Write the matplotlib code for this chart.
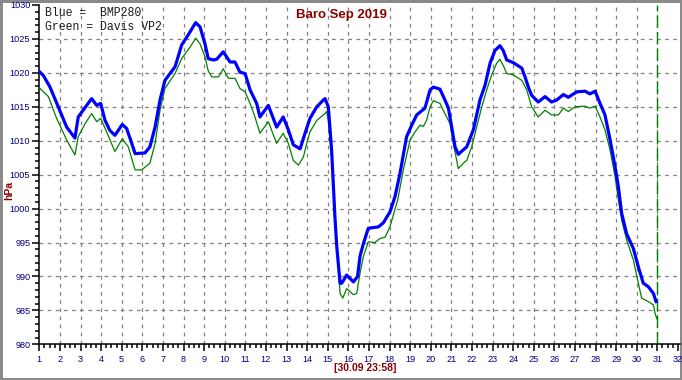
import matplotlib
matplotlib.use('Agg')
import matplotlib.pyplot as plt
from matplotlib.ticker import MultipleLocator

# ---- data (day of month, hPa) ----
blue_days = [1.00, 1.20, 1.52, 1.92, 2.33, 2.73, 2.89, 3.20, 3.54, 3.79, 3.98, 4.19, 4.43, 4.67,
             5.03, 5.24, 5.49, 5.65, 6.13, 6.37, 6.62, 6.86, 7.10, 7.59, 7.91, 8.23, 8.59, 8.80,
             9.04, 9.20, 9.45, 9.61, 9.93, 10.26, 10.50, 10.74, 10.99, 11.23, 11.55, 11.71, 12.12,
             12.52, 12.84, 13.09, 13.33, 13.66, 13.90, 14.14, 14.47, 14.79, 14.87, 15.03, 15.19,
             15.27, 15.35, 15.44, 15.60, 15.68, 15.92, 16.25, 16.45, 16.57, 16.73, 16.97, 17.46,
             17.70, 18.02, 18.27, 18.51, 18.83, 19.08, 19.32, 19.56, 19.72, 19.97, 20.13, 20.45,
             20.69, 20.86, 21.02, 21.18, 21.34, 21.75, 22.07, 22.39, 22.64, 22.88, 23.12, 23.36,
             23.52, 23.69, 24.01, 24.42, 24.58, 24.74, 24.90, 25.22, 25.55, 25.87, 26.12, 26.44,
             26.68, 27.09, 27.49, 27.73, 27.98, 28.22, 28.46, 28.71, 28.95, 29.11, 29.27, 29.51,
             29.84, 30.08, 30.32, 30.56, 30.81, 30.94]
blue_hpa = [1020.2, 1019.6, 1017.9, 1015.0, 1012.0, 1010.4, 1013.5, 1014.8, 1016.2, 1015.2, 1015.5,
            1013.0, 1011.5, 1010.8, 1012.4, 1011.8, 1009.6, 1008.1, 1008.2, 1009.1, 1012.0, 1016.0,
            1018.9, 1020.9, 1024.1, 1025.6, 1027.4, 1026.8, 1024.3, 1022.1, 1021.9, 1022.0, 1023.1,
            1021.6, 1021.6, 1020.1, 1019.9, 1017.5, 1015.5, 1013.5, 1015.2, 1012.0, 1013.5, 1011.6,
            1009.4, 1008.8, 1011.1, 1013.3, 1015.0, 1016.0, 1016.2, 1015.0, 1008.6, 1003.7, 998.8,
            994.4, 989.0, 989.0, 990.2, 989.2, 990.0, 993.0, 994.8, 997.1, 997.3, 997.9, 999.5,
            1001.8, 1005.2, 1010.6, 1012.3, 1013.8, 1014.4, 1014.8, 1017.5, 1017.9, 1017.6, 1016.0,
            1014.8, 1012.0, 1009.1, 1008.0, 1009.1, 1011.6, 1016.0, 1018.2, 1021.4, 1023.3, 1024.0,
            1023.3, 1021.9, 1021.5, 1020.7, 1019.4, 1017.9, 1016.7, 1015.7, 1016.5, 1015.7, 1016.0,
            1016.8, 1016.4, 1017.2, 1017.3, 1016.9, 1017.3, 1015.5, 1013.8, 1010.1, 1006.2, 1003.2,
            999.3, 996.3, 994.1, 991.4, 989.0, 988.5, 987.5, 986.3]

green_days = [1.00, 1.44, 1.84, 2.33, 2.73, 2.89, 3.22, 3.54, 3.79, 3.98, 4.27, 4.67, 5.03, 5.32,
              5.65, 5.97, 6.37, 6.62, 6.86, 7.10, 7.59, 7.91, 8.32, 8.59, 8.80, 9.04, 9.20, 9.37,
              9.70, 9.93, 10.18, 10.50, 10.74, 10.99, 11.23, 11.47, 11.71, 12.12, 12.52, 12.84,
              13.09, 13.33, 13.58, 13.82, 13.98, 14.14, 14.47, 14.87, 14.95, 15.03, 15.16, 15.27,
              15.35, 15.44, 15.52, 15.60, 15.73, 15.92, 16.25, 16.41, 16.57, 16.73, 16.97, 17.29,
              17.54, 17.79, 18.02, 18.40, 18.67, 19.00, 19.24, 19.48, 19.64, 19.80, 19.97, 20.13,
              20.45, 20.69, 20.94, 21.10, 21.34, 21.59, 21.75, 21.99, 22.23, 22.48, 22.72, 22.96,
              23.20, 23.36, 23.52, 23.69, 24.01, 24.42, 24.66, 24.90, 25.22, 25.55, 25.87, 26.20,
              26.44, 26.68, 27.01, 27.49, 27.73, 27.98, 28.22, 28.46, 28.71, 28.95, 29.11, 29.27,
              29.51, 29.84, 30.08, 30.24, 30.56, 30.81, 30.89, 30.97]
green_hpa = [1017.8, 1016.5, 1013.3, 1010.1, 1007.9, 1010.6, 1012.5, 1014.0, 1012.8, 1013.3, 1011.3,
             1008.4, 1010.3, 1009.1, 1005.7, 1005.7, 1006.7, 1009.6, 1014.5, 1017.7, 1019.9, 1022.1,
             1023.8, 1025.1, 1024.3, 1022.4, 1020.3, 1019.4, 1019.4, 1020.6, 1019.2, 1019.2, 1017.7,
             1017.2, 1015.5, 1013.5, 1011.1, 1012.8, 1009.6, 1011.1, 1009.6, 1007.1, 1006.4, 1007.6,
             1009.6, 1011.3, 1013.0, 1014.0, 1014.3, 1013.0, 1008.6, 1004.7, 999.3, 995.4, 991.4,
             987.5, 986.8, 988.2, 987.3, 987.5, 990.5, 992.9, 995.1, 995.0, 995.6, 995.8, 997.3,
             1001.3, 1005.7, 1010.1, 1011.3, 1012.3, 1012.1, 1013.0, 1015.0, 1015.9, 1015.5, 1014.0,
             1012.5, 1009.6, 1005.9, 1006.7, 1007.1, 1009.1, 1012.0, 1015.0, 1017.5, 1019.7, 1021.4,
             1022.0, 1021.1, 1019.9, 1019.7, 1018.9, 1017.5, 1015.0, 1013.5, 1014.5, 1013.8, 1013.8,
             1014.8, 1014.3, 1015.0, 1015.1, 1014.8, 1015.1, 1013.5, 1011.6, 1008.6, 1004.7, 1001.3,
             998.3, 995.4, 992.4, 989.0, 986.8, 986.3, 985.8, 984.6, 983.8]

x_ticks = list(range(1, 33))
y_ticks = list(range(980, 1031, 5))
now_day = 31
title = 'Baro Sep 2019'
legend_lines = ['Blue =  BMP280', 'Green = Davis VP2']
stamp = '[30.09 23:58]'
y_label = 'hPa'

# ---- figure ----
W, H = 682, 380
fig = plt.figure(figsize=(W / 100, H / 100), dpi=100, facecolor='white',
                 edgecolor='#8a8a8a', linewidth=2.5)
x0, x1 = 39.3, 680.0
y_top, y_bot = 5.0, 344.3
ax = fig.add_axes([x0 / W, 1 - y_bot / H, (x1 - x0) / W, (y_bot - y_top) / H])
ax.set_facecolor('white')
px_per_day = 20.6
ax.set_xlim(1, 1 + (x1 - x0) / px_per_day)
ax.set_ylim(980, 1030)

# grid
for d in x_ticks[1:]:
    if d <= 31:
        ax.axvline(d, color='#808080', lw=0.9, ls=(0, (3, 3.5)), zorder=1)
for v in y_ticks[1:-1]:
    ax.axhline(v, color='#808080', lw=0.9, ls=(0, (3, 3.5)), zorder=1)

# current-time marker
ax.axvline(now_day, color='#008000', lw=1.0, ls=(0, (9, 3)), zorder=2)

ax.plot(green_days, green_hpa, color='#008000', lw=0.9, zorder=3)
ax.plot(blue_days, blue_hpa, color='#0000FF', lw=2.3, zorder=4)

for s in ['top', 'right']:
    ax.spines[s].set_visible(False)
for s in ['left', 'bottom']:
    ax.spines[s].set_color('black')
    ax.spines[s].set_linewidth(1.1)

ax.set_xticks(x_ticks)
ax.set_yticks(y_ticks)
ax.xaxis.set_minor_locator(MultipleLocator(0.25))
ax.yaxis.set_minor_locator(MultipleLocator(1))
ax.tick_params(which='major', length=5, width=1.1, color='black', direction='out')
ax.tick_params(which='minor', length=3, width=1.1, color='black', direction='out')
ax.tick_params(axis='y', pad=1.5)
ax.tick_params(axis='x', pad=2.5)
for lab in ax.get_xticklabels() + ax.get_yticklabels():
    lab.set_family('Liberation Sans')
    lab.set_fontsize(6.6)
    lab.set_color('#000080')

fig.text(341 / W, 1 - 15 / H, title, ha='center', va='center', color='#8B0000',
         fontsize=9.5, fontweight='bold', family='Liberation Sans')
fig.text(45 / W, 1 - 13.3 / H, legend_lines[0], ha='left', va='center', color='#1a1a1a',
         fontsize=8.3, family='Liberation Mono')
fig.text(45 / W, 1 - 26.8 / H, legend_lines[1], ha='left', va='center', color='#1a1a1a',
         fontsize=8.3, family='Liberation Mono')
fig.text(9 / W, 1 - 190 / H, y_label, rotation=90, ha='center', va='center', color='#8B0000',
         fontsize=7.5, fontweight='bold', family='Liberation Sans')
fig.text(365 / W, 1 - 368 / H, stamp, ha='center', va='center', color='#8B0000',
         fontsize=7.5, fontweight='bold', family='Liberation Sans')

fig.savefig('out.png', dpi=100, facecolor='white', edgecolor=fig.get_edgecolor())
